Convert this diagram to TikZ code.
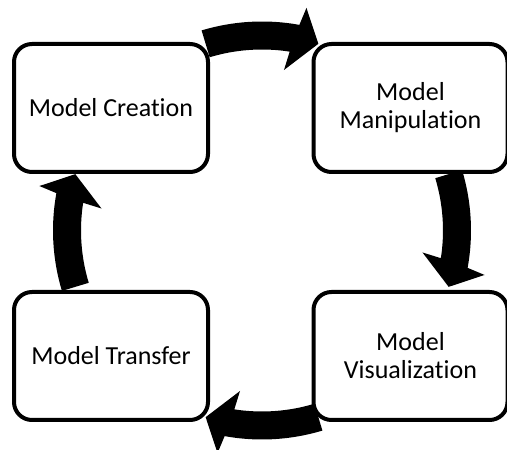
\documentclass[tikz,border=0pt]{standalone}
\usepackage{fontspec}
\setmainfont{Carlito}[Ligatures={NoCommon}]
\newcommand\cyclearrow[1]{%
  \pgfmathsetmacro\tailang{#1+16.8}%
  \pgfmathsetmacro\tipang{#1-16.8}%
  \pgfmathsetmacro\oshaft{\tipang+6.5}%
  \pgfmathsetmacro\obarb{\tipang+5.5}%
  \pgfmathsetmacro\ibarb{\tipang+9}%
  \pgfmathsetmacro\ishaft{\tipang+8}%
  \fill[cyclefill,shift={(c)}] (\tailang:209)
    arc[start angle=\tailang, end angle=\oshaft, radius=209]
    -- (\obarb:227) -- (\tipang:195) -- (\ibarb:162) -- (\ishaft:181)
    arc[start angle=\ishaft, end angle=\tailang, radius=181] -- cycle;}
\begin{document}
\begin{tikzpicture}[x=1pt,y=1pt,
  stage/.style={draw=black, line width=4pt, rounded corners=18pt, fill=white,
    minimum width=194pt, minimum height=128pt, inner sep=0pt, align=center,
    font=\fontsize{26}{28}\selectfont},
  cyclefill/.style={fill=black}]
\useasboundingbox (0,0) rectangle (507,450);
\coordinate (c) at (262,219.5);
\cyclearrow{90}
\cyclearrow{0}
\cyclearrow{-90}
\cyclearrow{180}
\node[stage] (create) at (111,342) {Model Creation};
\node[stage] (manip) at (410.5,342) {Model\\Manipulation};
\node[stage] (visual) at (410.5,94) {Model\\Visualization};
\node[stage] (transfer) at (111,94) {Model Transfer};
\end{tikzpicture}
\end{document}
